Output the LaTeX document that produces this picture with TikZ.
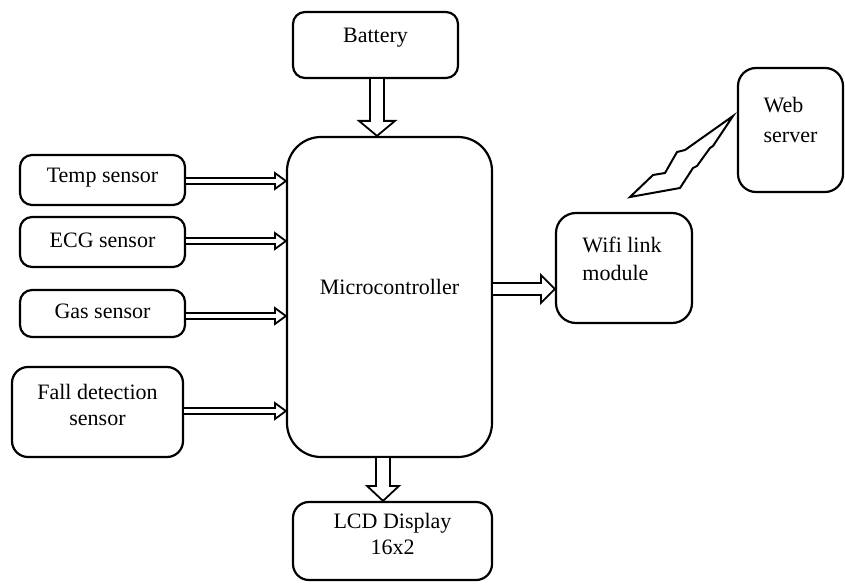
\documentclass[tikz,border=0pt]{standalone}
\usepackage{fontspec}
\setmainfont{Liberation Serif}
\usetikzlibrary{calc}
\tikzset{
  blk/.style={draw=black, line width=2.2pt, fill=white, rounded corners=12pt, inner sep=0pt,
    font=\fontsize{22}{26}\selectfont, align=center},
  arr/.style={draw=black, line width=1.8pt, line join=miter, fill=white},
}
% horizontal hollow arrow: from node, to node, y offset, half shaft, half head, head length
\newcommand\harr[6]{%
  \draw[arr] let \p1=(#1.east), \p2=(#2.west) in
    (\x1,\y1+#3+#4) -- (\x2-#6,\y1+#3+#4) -- (\x2-#6,\y1+#3+#5) -- (\x2,\y1+#3)
    -- (\x2-#6,\y1+#3-#5) -- (\x2-#6,\y1+#3-#4) -- (\x1,\y1+#3-#4);}
% vertical hollow arrow: from node (south), to node (north), x offset, half shaft, half head, head length
\newcommand\varr[6]{%
  \draw[arr] let \p1=(#1.south), \p2=(#2.north) in
    (\x1+#3-#4,\y1) -- (\x1+#3-#4,\y2+#6) -- (\x1+#3-#5,\y2+#6) -- (\x1+#3,\y2)
    -- (\x1+#3+#5,\y2+#6) -- (\x1+#3+#4,\y2+#6) -- (\x1+#3+#4,\y1);}
\begin{document}
\begin{tikzpicture}[x=1pt,y=-1pt]
\useasboundingbox (0,0) rectangle (845,583);
\fill[white] (0,0) rectangle (845,583);

\node[blk, minimum width=165pt, minimum height=66pt,
  label={[font=\fontsize{22}{26}\selectfont, yshift=7pt]center:Battery}] (batt) at (375.5,45) {};
\node[blk, rounded corners=34pt, minimum width=205pt, minimum height=320pt,
  label={[font=\fontsize{22}{26}\selectfont, yshift=10pt]center:Microcontroller}] (mcu) at (389.5,297) {};
\node[blk, minimum width=165pt, minimum height=50pt,
  label={[font=\fontsize{22}{26}\selectfont, yshift=2pt]center:Temp sensor}] (temp) at (102.5,180) {};
\node[blk, minimum width=165pt, minimum height=50pt,
  label={[font=\fontsize{22}{26}\selectfont, yshift=2pt]center:ECG sensor}] (ecg) at (102.5,242) {};
\node[blk, minimum width=165pt, minimum height=47pt,
  label={[font=\fontsize{22}{26}\selectfont, yshift=2pt]center:Gas sensor}] (gas) at (102.5,313.5) {};
\node[blk, rounded corners=16pt, minimum width=171pt, minimum height=90pt,
  label={[font=\fontsize{22}{26}\selectfont, align=center, yshift=7pt]center:Fall detection\\sensor}] (fall) at (97.5,412) {};
\node[blk, rounded corners=16pt, minimum width=199pt, minimum height=78pt,
  label={[font=\fontsize{22}{26}\selectfont, align=center, yshift=7pt]center:LCD Display\\16x2}] (lcd) at (392.5,541) {};
\node[blk, rounded corners=20pt, minimum width=136pt, minimum height=110pt,
  label={[font=\fontsize{22}{28}\selectfont, align=left, yshift=9pt, xshift=-2pt]center:Wifi link\\module}] (wifi) at (624,268) {};
\node[blk, rounded corners=18pt, minimum width=105pt, minimum height=124pt,
  label={[font=\fontsize{22}{30}\selectfont, align=left, yshift=10pt]center:Web\\server}] (web) at (790.5,130) {};

% arrows
\varr{batt}{mcu}{1.5pt}{7pt}{18pt}{15pt}
\varr{mcu}{lcd}{-6.5pt}{7pt}{16pt}{15pt}
\harr{temp}{mcu}{-1pt}{3pt}{8pt}{11pt}
\harr{ecg}{mcu}{1pt}{3pt}{8pt}{11pt}
\harr{gas}{mcu}{-2.5pt}{3pt}{8pt}{11pt}
\harr{fall}{mcu}{1pt}{3pt}{8pt}{11pt}
\harr{mcu}{wifi}{8pt}{6pt}{14pt}{14pt}

% lightning
\draw[line width=2pt, line join=miter, fill=white]
  (630,197) -- (653,175) -- (665,173) -- (677,152) -- (685,150) -- (733,116)
  -- (713,146) -- (710,148) -- (697,166) -- (693,168) -- (680,188) -- cycle;
\end{tikzpicture}
\end{document}
